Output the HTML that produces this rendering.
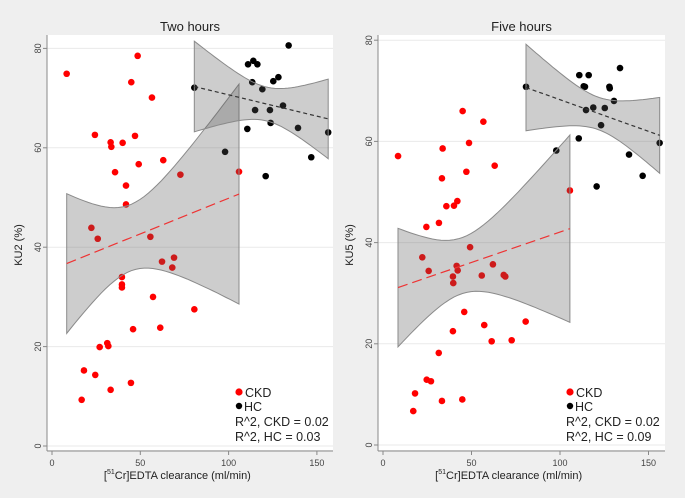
<!DOCTYPE html>
<html><head><meta charset="utf-8"><style>
html,body{margin:0;padding:0;background:#efefef;}
svg{display:block;font-family:"Liberation Sans",Arial,sans-serif;}
</style></head><body>
<svg id="chart" width="685" height="498" viewBox="0 0 685 498" xmlns="http://www.w3.org/2000/svg"></svg>
<script>
// ---- data ----
const xTicks = [0, 50, 100, 150];
const yTicks = [0, 20, 40, 60, 80];
const panelTitles = ["Two hours", "Five hours"];
const yTitles = ["KU2 (%)", "KU5 (%)"];
const r2CKD = ["0.02", "0.02"];
const r2HC = ["0.03", "0.09"];

const ckd2x = [8.3,48.5,44.9,56.6,24.3,47,33.2,33.6,40,49.1,63,35.7,72.7,105.9,41.9,41.9,22.3,25.9,55.7,62.3,69.1,68.1,39.6,39.6,39.6,57.2,80.6,45.9,61.3,27,31.3,31.9,18.1,24.5,33.2,44.7,16.8];
const ckd2y = [74.9,78.5,73.2,70.1,62.6,62.4,61.1,60.2,61,56.7,57.5,55.1,54.6,55.2,52.4,48.6,43.9,41.7,42.1,37.1,37.9,35.9,34.0,32.5,31.9,30.0,27.5,23.5,23.8,19.9,20.7,20.1,15.2,14.3,11.3,12.7,9.3];
const hc2x = [80.6,111,114,116.3,134,113.4,125.3,128.2,119.1,115,123.4,130.8,110.6,123.8,139.3,156.4,98,146.8,121];
const hc2y = [72.1,76.8,77.5,76.8,80.6,73.2,73.4,74.2,71.8,67.6,67.6,68.5,63.8,65,64,63.1,59.2,58.1,54.3];

const ckd5x = [8.5,45,56.7,33.7,48.6,63.1,47.1,33.3,35.8,40.1,42,24.5,31.6,105.6,49.2,22.2,25.8,41.6,42.2,39.5,39.7,62.1,55.8,68.2,69.1,45.9,39.5,57.2,80.6,61.4,72.7,31.5,24.7,27.1,18.1,33.3,44.8,17.1];
const ckd5y = [57.1,66,63.9,58.6,59.7,55.2,54,52.7,47.2,47.3,48.2,43.1,43.9,50.3,39.1,37.1,34.4,35.4,34.5,33.3,32,35.7,33.5,33.6,33.3,26.3,22.5,23.7,24.4,20.5,20.7,18.2,12.9,12.6,10.2,8.7,9,6.7];
const hc5x = [80.8,110.9,116.2,133.9,113.4,114.1,127.9,128.1,130.5,114.7,118.8,125.3,123.2,110.6,97.9,156.3,139,120.7,146.7];
const hc5y = [70.8,73.1,73.1,74.5,70.9,70.8,70.8,70.5,68,66.2,66.7,66.6,63.2,60.6,58.2,59.7,57.4,51.1,53.2];

const panels = [
  {ckdX: ckd2x, ckdY: ckd2y, hcX: hc2x, hcY: hc2y, left:47, right:333, top:35, bottom:451, x0:52, xs:1.766, y0:446, ys:4.97, legX:236},
  {ckdX: ckd5x, ckdY: ckd5y, hcX: hc5x, hcY: hc5y, left:378, right:665, top:35, bottom:451, x0:383, xs:1.77, y0:445, ys:5.06, legX:567}
];

const NS = "http://www.w3.org/2000/svg";
const svg = document.getElementById("chart");
function mk(tag, attrs, parent, text) {
  const e = document.createElementNS(NS, tag);
  for (const k in attrs) e.setAttribute(k, attrs[k]);
  if (text !== undefined) e.textContent = text;
  (parent || svg).appendChild(e);
  return e;
}

function fit(xs, ys) {
  const n = xs.length;
  const mx = xs.reduce((a,b)=>a+b,0)/n, my = ys.reduce((a,b)=>a+b,0)/n;
  let sxx=0, sxy=0;
  for (let i=0;i<n;i++){ sxx+=(xs[i]-mx)**2; sxy+=(xs[i]-mx)*(ys[i]-my); }
  const b = sxy/sxx, a = my - b*mx;
  let sse=0;
  for (let i=0;i<n;i++){ sse+=(ys[i]-a-b*xs[i])**2; }
  const s = Math.sqrt(sse/(n-2));
  return {a,b,s,n,mx,sxx,min:Math.min(...xs),max:Math.max(...xs)};
}

panels.forEach((p, pi) => {
  const g = mk("g", {}, svg);
  
  
  const X = v => p.x0 + p.xs*v;
  const Y = v => p.y0 - p.ys*v;

  const bg = mk("rect", {x:p.left, y:p.top, width:p.right-p.left, height:p.bottom-p.top-1, fill:"#ffffff"}, g);
  
  

  const t = mk("text", {x:(p.left+p.right)/2, y:31, "text-anchor":"middle", "font-size":"13", fill:"#222"}, g, panelTitles[pi]);
  
  

  // grid + y ticks
  yTicks.forEach(v => {
    const gl = mk("line", {x1:p.left, x2:p.right, y1:Y(v), y2:Y(v), stroke:"#eaeaea", "stroke-width":"1"}, g);
    
    
    mk("line", {x1:p.left-4, x2:p.left, y1:Y(v), y2:Y(v), stroke:"#888"}, g);
    const tl = mk("text", {x:0, y:0, transform:`translate(${p.left-6},${Y(v)}) rotate(-90)`, "text-anchor":"middle", "font-size":"9", fill:"#444"}, g, String(v));
    
    
  });
  // x ticks
  xTicks.forEach(v => {
    mk("line", {x1:X(v), x2:X(v), y1:p.bottom, y2:p.bottom+4, stroke:"#888"}, g);
    const tl = mk("text", {x:X(v), y:p.bottom+15, "text-anchor":"middle", "font-size":"9", fill:"#444"}, g, String(v));
    
    
  });
  const ya = mk("line", {x1:p.left, x2:p.left, y1:p.top, y2:p.bottom, stroke:"#888"}, g);
  
  
  const xa = mk("line", {x1:p.left, x2:p.right, y1:p.bottom, y2:p.bottom, stroke:"#888"}, g);
  
  

  const yt = mk("text", {x:0, y:0, transform:`translate(${p.left-25},245) rotate(-90)`, "text-anchor":"middle", "font-size":"11", fill:"#222"}, g, yTitles[pi]);
  
  
  const xt = mk("text", {x:X(71), y:479, "text-anchor":"middle", "font-size":"11", fill:"#222"}, g);
  
  
  mk("tspan", {}, xt, "[");
  mk("tspan", {"font-size":"7", dy:"-5"}, xt, "51");
  mk("tspan", {dy:"5"}, xt, "Cr]EDTA clearance (ml/min)");

  // points
  [[p.ckdX,p.ckdY,"#ff0000","ckd"],[p.hcX,p.hcY,"#000000","hc"]].forEach(([xs,ys,col,nm]) => {
    xs.forEach((xv,i) => {
      const c = mk("circle", {cx:X(xv), cy:Y(ys[i]), r:3.3, fill:col}, g);
      
      
    });
  });

  // fits + CI bands
  [[p.ckdX,p.ckdY,"#ee3333","10,5","ckd"],[p.hcX,p.hcY,"#333333","4,3","hc"]].forEach(([xs,ys,col,dash,nm]) => {
    const f = fit(xs, ys);
    const tcrit = 2.03;
    const up=[], lo=[];
    const N=40;
    for (let k=0;k<=N;k++){
      const xv = f.min + (f.max-f.min)*k/N;
      const yh = f.a + f.b*xv;
      const se = f.s*Math.sqrt(1/f.n + (xv-f.mx)**2/f.sxx);
      up.push([X(xv), Y(yh+tcrit*se)]);
      lo.push([X(xv), Y(yh-tcrit*se)]);
    }
    const pts = up.concat(lo.reverse()).map(q=>q[0].toFixed(1)+","+q[1].toFixed(1)).join(" ");
    const band = mk("polygon", {points:pts, fill:"rgba(90,90,90,0.3)", stroke:"#8a8a8a", "stroke-width":"1"}, g);
    
    
    const ln = mk("line", {x1:X(f.min), y1:Y(f.a+f.b*f.min), x2:X(f.max), y2:Y(f.a+f.b*f.max), stroke:col, "stroke-width":"1.2", "stroke-dasharray":dash}, g);
    
    
  });

  // legend
  const lg = mk("g", {}, g);
  
  
  const d1 = mk("circle", {cx:p.legX+3, cy:392, r:3.6, fill:"#ff0000"}, lg);
  
  
  const e1 = mk("text", {x:p.legX+9, y:397, "font-size":"12.5", fill:"#222"}, lg, "CKD");
  
  
  const d2 = mk("circle", {cx:p.legX+3, cy:406, r:3.2, fill:"#000"}, lg);
  
  
  const e2 = mk("text", {x:p.legX+8, y:411, "font-size":"12.5", fill:"#222"}, lg, "HC");
  
  
  const e3 = mk("text", {x:p.legX-1, y:426, "font-size":"12.5", fill:"#222"}, lg, "R^2, CKD = " + r2CKD[pi]);
  
  
  const e4 = mk("text", {x:p.legX-1, y:441, "font-size":"12.5", fill:"#222"}, lg, "R^2, HC = " + r2HC[pi]);
  
  
});
</script>
</body></html>
